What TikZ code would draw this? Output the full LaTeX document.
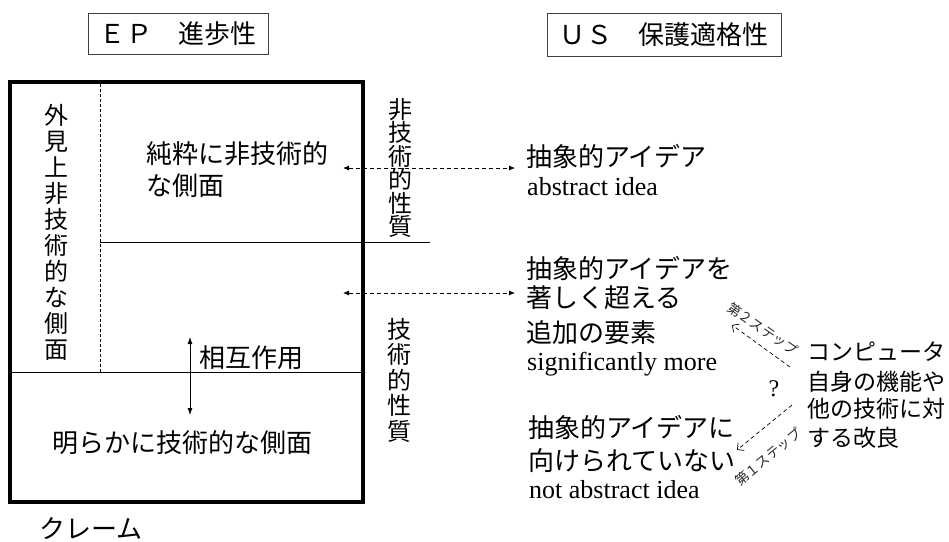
\documentclass[tikz,border=0pt]{standalone}
\usepackage{fontspec}
\setmainfont{Liberation Serif}
\newfontfamily\jp{Noto Sans CJK JP}
\usetikzlibrary{arrows.meta}
\begin{document}
\begin{tikzpicture}[x=1pt,y=-1pt,
  jtext/.style={font=\jp\fontsize{26}{30}\selectfont, inner sep=0pt, anchor=base west},
  ctext/.style={font=\jp\fontsize{23}{28}\selectfont, inner sep=0pt, anchor=base west},
  ltext/.style={font=\fontsize{26}{30}\selectfont, inner sep=0pt, anchor=base west},
  vtext/.style={font=\jp\fontsize{24}{#1}\selectfont, inner sep=0pt, align=center},
  hdr/.style={draw=black!75, line width=0.8pt, font=\jp\fontsize{26}{30}\selectfont, inner sep=0pt},
  dasharrow/.style={dash pattern=on 4pt off 3pt, line width=0.8pt, {Latex[length=6pt,width=5pt]}-{Latex[length=6pt,width=5pt]}},
  steparrow/.style={dash pattern=on 4pt off 3pt, line width=0.7pt, -{Straight Barb[length=5pt,width=10pt]}},
  steplabel/.style={font=\jp\fontsize{13.5}{14}\selectfont, inner sep=0pt, text=black!85},
  thinline/.style={line width=0.8pt}
]
\useasboundingbox (0,0) rectangle (949,541);

% headers
\node[hdr, minimum width=180pt, minimum height=41pt] (ep) at (178,33.5) {Ｅ\kern2ptＰ　進歩性};
\node[hdr, minimum width=234pt, minimum height=43pt] (us) at (664,34.5) {Ｕ\kern2ptＳ　保護適格性};

% claim box
\draw[line width=3.5pt] (10,82) rectangle (363,502);
\draw[thinline, dash pattern=on 3pt off 2pt] (100,84) -- (100,372);
\draw[thinline] (100,242) -- (430,242);
\draw[thinline] (10,372) -- (363,372);

% texts inside box
\node[vtext=26] (appnt) at (56,232) {外\\見\\上\\非\\技\\術\\的\\な\\側\\面};
\node[jtext] (pure1) at (146,163) {純粋に非技術的};
\node[jtext] (pure2) at (146,195) {な側面};
\node[jtext] (inter) at (199,367) {相互作用};
\node[jtext] (tech) at (52,452) {明らかに技術的な側面};
\node[jtext] (claim) at (39,538) {クレーム};

% interaction arrow
\coordinate (ia) at (190,337);
\coordinate (ib) at (190,415);
\draw[thinline, {Latex[length=7pt,width=5pt]}-{Latex[length=7pt,width=5pt]}] (ia) -- (ib);

% vertical labels
\node[vtext=23.5] (ntp) at (400,168) {非\\技\\術\\的\\性\\質};
\node[vtext=25.5] (tp) at (399,380) {技\\術\\的\\性\\質};

% right side texts
\node[jtext] (ai1) at (526,166) {抽象的アイデア};
\node[ltext] (ai2) at (527,195) {abstract idea};
\node[jtext] (sm1) at (526,278) {抽象的アイデアを};
\node[jtext] (sm2) at (526,307) {著しく超える};
\node[jtext] (sm3) at (526,342) {追加の要素};
\node[ltext] (sm4) at (527,370) {significantly more};
\node[jtext] (na1) at (528,437) {抽象的アイデアに};
\node[jtext] (na2) at (528,470) {向けられていない};
\node[ltext] (na3) at (529,498) {not abstract idea};

\node[ctext] (c1) at (807,360) {コンピュータ};
\node[ctext] (c2) at (807,390) {自身の機能や};
\node[ctext] (c3) at (807,417) {他の技術に対};
\node[ctext] (c4) at (807,446) {する改良};

\node[font=\fontsize{24}{24}\selectfont, inner sep=0pt] (q) at (774,389) {?};

% dashed double arrows
\coordinate (e1) at (343,168); \coordinate (u1) at (515,168);
\draw[dasharrow] (e1) -- (u1);
\coordinate (e2) at (343,293); \coordinate (u2) at (515,293);
\draw[dasharrow] (e2) -- (u2);

% step arrows
\coordinate (s2s) at (790,367); \coordinate (s2t) at (732,325);
\draw[steparrow] (s2s) -- (s2t);
\node[steplabel, rotate=-35] (s2l) at (763,329) {第２ステップ};
\coordinate (s1s) at (792,405); \coordinate (s1t) at (737,450);
\draw[steparrow] (s1s) -- (s1t);
\node[steplabel, rotate=39.5] (s1l) at (768,457) {第１ステップ};
\end{tikzpicture}
\end{document}
